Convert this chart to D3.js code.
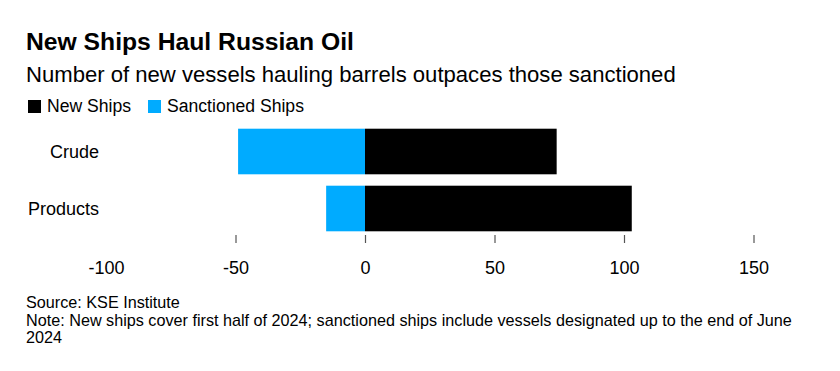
<!DOCTYPE html>
<head>
  <meta charset="utf-8" />
  <script src="https://d3js.org/d3.v7.min.js"></script>
  <style>
    body {
      margin: 0;
      background: #fff;
    }
    text {
      font-family: "Liberation Sans", Arial, sans-serif;
    }
  </style>
</head>

<body>
  <script>
    var width = 840,
      height = 371;

    // data
    var categories = ["Crude", "Products"];
    var newShips = [74, 103];
    var sanctionedShips = [-49, -15];
    var tickValues = [-100, -50, 0, 50, 100, 150];
    var seriesNames = ["New Ships", "Sanctioned Ships"];
    var colors = ["#000000", "#00abff"];

    var svg = d3
      .select("body")
      .append("svg")
      .attr("width", width)
      .attr("height", height);

    var x = d3.scaleLinear().domain([-100, 150]).range([106, 753.5]);
    var y = d3
      .scaleBand()
      .domain(categories)
      .range([123, 237])
      .paddingInner(0.2)
      .paddingOuter(0.1);

    // title
    svg
      .append("text")
      .attr("x", 26)
      .attr("y", 50)
      .style("font-size", "24.7px")
      .style("font-weight", "bold")
      .text("New Ships Haul Russian Oil");

    svg
      .append("text")
      .attr("x", 26)
      .attr("y", 82)
      .style("font-size", "22.1px")
      .text("Number of new vessels hauling barrels outpaces those sanctioned");

    // legend
    var leg = svg.append("g").attr("transform", "translate(28,112)");
    var legX = [0, 120];
    seriesNames.forEach(function (name, i) {
      leg
        .append("rect")
        .attr("x", legX[i])
        .attr("y", -12)
        .attr("width", 13)
        .attr("height", 13)
        .attr("fill", colors[i]);
      leg
        .append("text")
        .attr("x", legX[i] + 19)
        .attr("y", 0)
        .style("font-size", "17.6px")
        .text(name);
    });

    // bars
    var g = svg.append("g");
    g.selectAll(".sanc")
      .data(categories)
      .join("rect")
      .attr("class", "sanc")
      .attr("x", (d, i) => x(sanctionedShips[i]))
      .attr("y", (d) => y(d))
      .attr("width", (d, i) => x(0) - x(sanctionedShips[i]))
      .attr("height", y.bandwidth())
      .attr("fill", colors[1]);

    g.selectAll(".new")
      .data(categories)
      .join("rect")
      .attr("class", "new")
      .attr("x", x(0))
      .attr("y", (d) => y(d))
      .attr("width", (d, i) => x(newShips[i]) - x(0))
      .attr("height", y.bandwidth())
      .attr("fill", colors[0]);

    // category labels
    g.selectAll(".cat")
      .data(categories)
      .join("text")
      .attr("class", "cat")
      .attr("x", 99)
      .attr("y", (d) => y(d) + y.bandwidth() / 2)
      .attr("dy", "0.35em")
      .attr("text-anchor", "end")
      .style("font-size", "18px")
      .text((d) => d);

    // x axis
    var axis = svg
      .append("g")
      .attr("transform", "translate(0,235)")
      .call(
        d3
          .axisBottom(x)
          .tickValues(tickValues)
          .tickSize(8)
          .tickPadding(18)
          .tickFormat((d) => String(d))
      );
    axis.select(".domain").remove();
    axis.selectAll(".tick line")
      .attr("y1", 0)
      .attr("stroke", "#555")
      .attr("stroke-width", 1.2)
      .filter((d) => d == -100)
      .remove();
    axis.selectAll(".tick text")
      .style("font-size", "18px")
      .style("font-family", "'Liberation Sans', Arial, sans-serif")
      .attr("fill", "#000");

    // footer
    var footLines = [
      "Source: KSE Institute",
      "Note: New ships cover first half of 2024; sanctioned ships include vessels designated up to the end of June",
      "2024",
    ];
    svg
      .append("g")
      .selectAll("text")
      .data(footLines)
      .join("text")
      .attr("x", 26)
      .attr("y", (d, i) => 308 + i * 17.6)
      .style("font-size", "16.2px")
      .text((d) => d);
  </script>
</body>
